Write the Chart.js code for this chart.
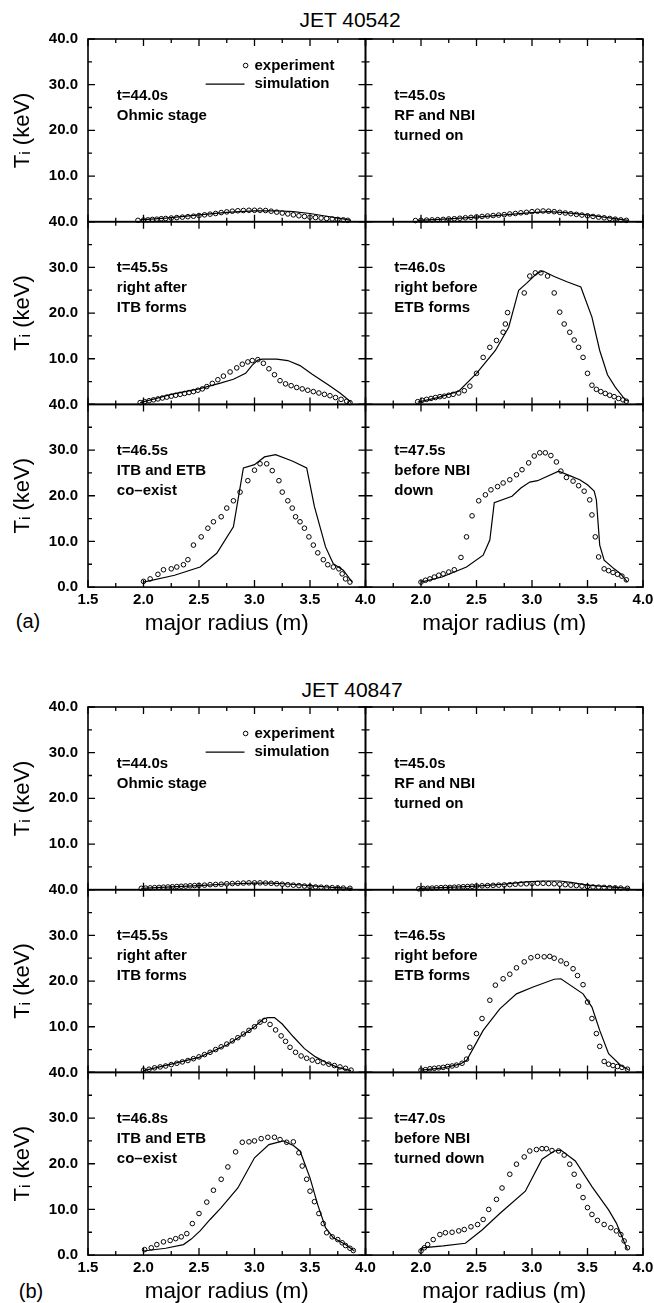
<!DOCTYPE html>
<html>
<head>
<meta charset="utf-8">
<script src="https://cdn.jsdelivr.net/npm/chart.js@4"></script>
<style>
  html, body { margin: 0; padding: 0; background: #fff; }
  #page { position: relative; width: 654px; height: 1303px; overflow: hidden; }
  #page canvas { position: absolute; left: 0; top: 0; }
  .lbl { position: absolute; font-family: 'Liberation Sans', Arial, sans-serif; color: #000;
         transform: translate(-50%, -50%); white-space: nowrap; }
</style>
</head>
<body>
<div id="page">
  <div class="lbl" style="left:350px;top:20px;font-size:21px">JET 40542</div>
  <div class="lbl" style="left:28px;top:621px;font-size:20px">(a)</div>
  <div class="lbl" style="left:352px;top:690px;font-size:21px">JET 40847</div>
  <div class="lbl" style="left:31px;top:1291px;font-size:20px">(b)</div>
</div>
<script>
// major radius (m), ion temperature (keV)
const xTicks = [1.5, 2.0, 2.5, 3.0, 3.5, 4.0];
const xMinor = [1.75, 2.25, 2.75, 3.25, 3.75];
const yTicks = [0, 10, 20, 30, 40];
const yMinor = [5, 15, 25, 35];

// JET 40542
const a1Exp = [[1.95,0.3],[2.0,0.35],[2.04,0.4],[2.08,0.5],[2.12,0.55],[2.16,0.65],[2.2,0.7],[2.25,0.8],[2.3,0.9],[2.35,1.0],[2.4,1.1],[2.45,1.2],[2.5,1.35],[2.55,1.5],[2.6,1.65],[2.65,1.8],[2.7,2.0],[2.75,2.15],[2.8,2.3],[2.85,2.4],[2.9,2.45],[2.95,2.5],[3.0,2.5],[3.05,2.5],[3.1,2.45],[3.15,2.3],[3.2,2.1],[3.25,1.9],[3.3,1.7],[3.35,1.5],[3.4,1.3],[3.45,1.15],[3.5,1.0],[3.55,0.9],[3.6,0.8],[3.65,0.7],[3.7,0.6],[3.75,0.5],[3.8,0.4],[3.84,0.3]];
const a1Sim = [[1.97,0.4],[2.2,0.8],[2.5,1.5],[2.75,2.05],[3.0,2.35],[3.2,2.4],[3.35,2.2],[3.5,1.8],[3.65,1.2],[3.8,0.6],[3.87,0.3]];
const a2Exp = [[1.95,0.25],[2.0,0.3],[2.05,0.35],[2.1,0.4],[2.15,0.45],[2.2,0.5],[2.25,0.6],[2.3,0.65],[2.35,0.75],[2.4,0.85],[2.45,0.95],[2.5,1.05],[2.55,1.15],[2.6,1.25],[2.65,1.35],[2.7,1.45],[2.75,1.55],[2.8,1.7],[2.85,1.8],[2.9,1.95],[2.95,2.05],[3.0,2.2],[3.05,2.3],[3.1,2.35],[3.15,2.3],[3.2,2.2],[3.25,2.05],[3.3,1.9],[3.35,1.75],[3.4,1.6],[3.45,1.45],[3.5,1.3],[3.55,1.15],[3.6,1.0],[3.65,0.85],[3.7,0.7],[3.75,0.55],[3.8,0.4],[3.85,0.3]];
const a2Sim = [[1.97,0.3],[2.25,0.6],[2.5,1.0],[2.75,1.5],[3.0,2.0],[3.15,2.2],[3.3,2.0],[3.5,1.5],[3.65,1.0],[3.8,0.5],[3.87,0.3]];
const a3Exp = [[1.97,0.4],[2.01,0.6],[2.05,0.8],[2.09,1.0],[2.13,1.2],[2.17,1.4],[2.21,1.6],[2.25,1.8],[2.29,2.0],[2.33,2.2],[2.37,2.4],[2.41,2.6],[2.45,2.8],[2.49,3.1],[2.53,3.4],[2.57,3.9],[2.62,4.6],[2.67,5.4],[2.72,6.2],[2.78,7.1],[2.84,8.0],[2.89,8.8],[2.94,9.3],[2.98,9.6],[3.03,9.8],[3.08,9.0],[3.13,7.8],[3.18,6.5],[3.23,5.2],[3.28,4.5],[3.33,4.1],[3.38,3.7],[3.43,3.4],[3.48,3.1],[3.53,2.8],[3.58,2.5],[3.63,2.2],[3.68,1.9],[3.73,1.5],[3.78,1.1],[3.83,0.7],[3.86,0.4]];
const a3Sim = [[1.97,0.4],[2.1,1.2],[2.25,2.2],[2.5,3.4],[2.7,4.7],[2.81,5.5],[2.92,6.8],[2.98,8.6],[3.03,9.7],[3.07,9.9],[3.2,9.9],[3.3,9.6],[3.41,8.5],[3.52,6.6],[3.67,4.2],[3.77,2.5],[3.82,1.5],[3.87,0.4]];
const a4Exp = [[1.97,0.6],[2.01,0.9],[2.05,1.1],[2.09,1.3],[2.13,1.5],[2.17,1.7],[2.21,1.8],[2.25,2.0],[2.29,2.2],[2.34,2.5],[2.39,3.0],[2.44,4.0],[2.5,6.8],[2.56,10.3],[2.62,12.5],[2.68,14.0],[2.74,15.8],[2.76,17.6],[2.78,20.1],[2.93,24.4],[2.98,28.1],[3.03,28.8],[3.08,28.8],[3.14,28.1],[3.2,24.4],[3.25,20.2],[3.29,17.6],[3.34,15.8],[3.38,14.1],[3.42,12.5],[3.46,10.3],[3.5,6.8],[3.54,4.2],[3.58,3.3],[3.62,2.8],[3.66,2.4],[3.7,2.0],[3.74,1.7],[3.78,1.3],[3.82,1.0],[3.85,0.7]];
const a4Sim = [[1.97,0.5],[2.15,1.5],[2.34,2.9],[2.5,6.8],[2.67,11.8],[2.79,16.9],[2.88,25.0],[2.95,26.5],[3.05,28.8],[3.1,29.2],[3.2,28.0],[3.32,26.8],[3.44,25.7],[3.54,19.1],[3.61,11.8],[3.68,6.5],[3.75,3.8],[3.84,1.0],[3.87,0.7]];
const a5Exp = [[2.0,1.25],[2.06,1.8],[2.13,2.8],[2.18,3.8],[2.25,4.0],[2.3,4.4],[2.36,4.9],[2.4,6.0],[2.45,9.2],[2.52,11.0],[2.58,12.9],[2.63,14.3],[2.7,15.4],[2.75,17.3],[2.81,18.9],[2.87,20.8],[2.94,23.3],[3.0,25.6],[3.05,27.0],[3.11,27.0],[3.16,25.5],[3.22,23.3],[3.25,20.8],[3.3,18.9],[3.34,17.3],[3.37,15.4],[3.41,14.3],[3.45,12.9],[3.49,11.0],[3.53,9.2],[3.57,7.5],[3.62,6.0],[3.66,4.9],[3.71,4.4],[3.76,4.0],[3.79,2.9],[3.82,1.8],[3.86,1.1]];
const a5Sim = [[2.0,1.1],[2.28,2.6],[2.51,4.4],[2.66,7.4],[2.81,13.2],[2.9,26.1],[3.0,26.8],[3.09,28.5],[3.19,29.0],[3.34,27.6],[3.47,26.1],[3.54,17.6],[3.64,8.8],[3.71,5.1],[3.8,3.7],[3.88,1.1]];
const a6Exp = [[2.0,1.1],[2.04,1.5],[2.08,1.8],[2.12,2.2],[2.16,2.6],[2.2,2.9],[2.25,3.3],[2.3,3.8],[2.36,6.5],[2.41,11.0],[2.46,15.6],[2.52,18.9],[2.58,20.2],[2.63,21.3],[2.69,22.0],[2.74,22.8],[2.8,23.5],[2.86,24.6],[2.91,25.7],[2.97,27.2],[3.02,28.7],[3.07,29.4],[3.12,29.4],[3.17,28.8],[3.22,27.4],[3.26,25.4],[3.31,24.0],[3.37,23.2],[3.42,22.2],[3.47,21.0],[3.52,19.1],[3.54,15.8],[3.57,11.0],[3.6,6.6],[3.65,4.0],[3.69,3.6],[3.73,3.2],[3.77,2.8],[3.81,2.4],[3.85,1.6]];
const a6Sim = [[2.0,1.1],[2.19,2.2],[2.41,4.4],[2.56,7.0],[2.62,10.3],[2.66,18.5],[2.82,19.9],[2.9,21.7],[2.98,23.0],[3.05,23.3],[3.24,25.4],[3.35,24.3],[3.43,23.5],[3.5,22.4],[3.56,21.0],[3.58,19.1],[3.61,9.2],[3.65,5.9],[3.74,4.0],[3.8,2.9],[3.86,1.1]];

// JET 40847
const b1Exp = [[1.98,0.3],[2.02,0.35],[2.06,0.4],[2.1,0.45],[2.14,0.5],[2.18,0.55],[2.22,0.6],[2.26,0.65],[2.3,0.7],[2.34,0.75],[2.38,0.8],[2.42,0.85],[2.46,0.9],[2.5,0.95],[2.55,1.0],[2.6,1.1],[2.65,1.15],[2.7,1.2],[2.75,1.3],[2.8,1.35],[2.85,1.4],[2.9,1.45],[2.95,1.5],[3.0,1.5],[3.05,1.5],[3.1,1.45],[3.15,1.4],[3.2,1.3],[3.25,1.2],[3.3,1.1],[3.35,1.0],[3.4,0.9],[3.45,0.8],[3.5,0.7],[3.55,0.6],[3.6,0.55],[3.65,0.5],[3.7,0.45],[3.75,0.4],[3.8,0.35],[3.86,0.3]];
const b1Sim = [[1.98,0.3],[2.25,0.6],[2.5,0.9],[2.75,1.25],[3.0,1.45],[3.15,1.45],[3.3,1.25],[3.5,0.9],[3.7,0.5],[3.88,0.3]];
const b2Exp = [[1.98,0.2],[2.02,0.25],[2.06,0.3],[2.1,0.35],[2.14,0.4],[2.18,0.45],[2.22,0.5],[2.26,0.5],[2.3,0.55],[2.34,0.6],[2.38,0.65],[2.42,0.7],[2.46,0.75],[2.5,0.8],[2.55,0.85],[2.6,0.9],[2.65,0.95],[2.7,1.0],[2.75,1.05],[2.8,1.1],[2.85,1.2],[2.9,1.25],[2.95,1.3],[3.0,1.35],[3.05,1.4],[3.1,1.4],[3.15,1.35],[3.2,1.3],[3.25,1.2],[3.3,1.1],[3.35,1.0],[3.4,0.9],[3.45,0.8],[3.5,0.7],[3.55,0.6],[3.6,0.55],[3.65,0.5],[3.7,0.45],[3.75,0.4],[3.8,0.35],[3.86,0.3]];
const b2Sim = [[1.98,0.3],[2.25,0.5],[2.5,0.8],[2.75,1.2],[2.95,1.7],[3.1,1.9],[3.25,1.9],[3.35,1.6],[3.5,1.0],[3.7,0.6],[3.88,0.3]];
const b3Exp = [[2.0,0.5],[2.05,0.7],[2.1,1.0],[2.15,1.2],[2.2,1.4],[2.25,1.7],[2.3,2.0],[2.35,2.3],[2.4,2.6],[2.45,3.0],[2.5,3.4],[2.55,3.9],[2.6,4.4],[2.65,5.0],[2.7,5.6],[2.75,6.2],[2.8,6.9],[2.85,7.6],[2.9,8.4],[2.95,9.2],[3.0,10.0],[3.05,11.0],[3.09,11.4],[3.14,10.5],[3.19,9.3],[3.24,8.0],[3.28,6.8],[3.32,5.5],[3.37,4.4],[3.42,3.6],[3.47,3.1],[3.52,2.7],[3.57,2.4],[3.62,2.1],[3.67,1.8],[3.72,1.5],[3.77,1.2],[3.82,0.9],[3.87,0.5]];
const b3Sim = [[2.0,0.4],[2.25,1.8],[2.5,3.3],[2.75,6.0],[2.9,8.3],[3.0,10.0],[3.08,11.7],[3.12,12.0],[3.18,12.0],[3.25,10.6],[3.35,7.8],[3.45,5.2],[3.55,3.4],[3.65,2.1],[3.75,1.1],[3.87,0.4]];
const b4Exp = [[2.0,0.5],[2.04,0.6],[2.08,0.8],[2.12,0.9],[2.16,1.0],[2.2,1.1],[2.24,1.3],[2.28,1.4],[2.32,1.6],[2.37,2.0],[2.41,2.9],[2.44,5.5],[2.5,8.5],[2.55,11.8],[2.62,15.8],[2.67,19.1],[2.74,20.5],[2.8,21.5],[2.86,22.9],[2.93,24.2],[2.99,25.1],[3.05,25.4],[3.11,25.3],[3.16,25.4],[3.2,25.0],[3.26,24.4],[3.31,23.8],[3.37,22.7],[3.41,21.2],[3.46,19.2],[3.5,15.4],[3.54,11.8],[3.58,8.5],[3.61,5.7],[3.65,2.4],[3.69,1.8],[3.73,1.5],[3.77,1.3],[3.81,1.1],[3.86,0.7]];
const b4Sim = [[2.0,0.5],[2.2,1.0],[2.35,1.8],[2.41,2.6],[2.56,9.2],[2.71,13.9],[2.86,17.2],[3.01,18.7],[3.2,20.4],[3.26,20.5],[3.46,17.2],[3.54,14.3],[3.61,9.2],[3.69,4.1],[3.8,1.5],[3.87,0.6]];
const b5Exp = [[2.01,1.2],[2.07,1.6],[2.12,2.3],[2.18,2.9],[2.24,3.2],[2.29,3.6],[2.34,4.0],[2.39,4.7],[2.44,6.9],[2.5,9.1],[2.57,11.6],[2.63,14.2],[2.7,16.6],[2.76,19.3],[2.83,22.6],[2.89,24.7],[2.95,24.8],[3.0,25.0],[3.06,25.5],[3.12,25.8],[3.18,25.8],[3.23,25.3],[3.29,24.7],[3.35,24.8],[3.4,22.4],[3.43,19.5],[3.47,16.6],[3.5,14.0],[3.54,11.7],[3.58,9.1],[3.62,6.9],[3.65,4.9],[3.7,4.0],[3.75,3.4],[3.79,2.7],[3.82,2.1],[3.86,1.5],[3.89,1.0]];
const b5Sim = [[2.0,0.9],[2.2,1.5],[2.36,2.3],[2.43,3.5],[2.51,5.3],[2.6,7.8],[2.7,10.4],[2.85,14.7],[3.0,21.3],[3.13,24.2],[3.26,25.0],[3.35,24.0],[3.41,22.8],[3.5,16.9],[3.57,11.0],[3.64,6.0],[3.71,3.8],[3.82,2.3],[3.9,0.9]];
const b6Exp = [[2.0,0.9],[2.03,1.6],[2.06,2.3],[2.11,3.4],[2.17,4.5],[2.22,4.9],[2.28,5.0],[2.34,5.3],[2.39,5.6],[2.45,6.2],[2.51,6.7],[2.56,7.8],[2.61,10.0],[2.68,12.2],[2.73,14.7],[2.8,17.7],[2.86,19.9],[2.93,21.5],[2.98,22.8],[3.04,23.1],[3.09,23.3],[3.13,23.3],[3.18,22.9],[3.24,22.8],[3.29,21.9],[3.34,19.9],[3.38,17.7],[3.42,15.1],[3.46,12.6],[3.5,10.4],[3.54,8.9],[3.59,7.6],[3.65,6.7],[3.71,6.0],[3.76,5.3],[3.8,4.5],[3.83,3.1],[3.86,1.6]];
const b6Sim = [[2.0,0.9],[2.01,1.6],[2.2,2.0],[2.4,2.6],[2.55,5.5],[2.71,9.1],[2.94,14.0],[3.09,21.0],[3.2,22.8],[3.26,23.0],[3.39,20.6],[3.54,15.0],[3.69,9.9],[3.76,7.0],[3.84,2.3],[3.86,1.2]];

const notesA = [['t=44.0s', 'Ohmic stage'], ['t=45.0s', 'RF and NBI', 'turned on'],
                ['t=45.5s', 'right after', 'ITB forms'], ['t=46.0s', 'right before', 'ETB forms'],
                ['t=46.5s', 'ITB and ETB', 'co\u2013exist'], ['t=47.5s', 'before NBI', 'down']];
const notesB = [['t=44.0s', 'Ohmic stage'], ['t=45.0s', 'RF and NBI', 'turned on'],
                ['t=45.5s', 'right after', 'ITB forms'], ['t=46.5s', 'right before', 'ETB forms'],
                ['t=46.8s', 'ITB and ETB', 'co\u2013exist'], ['t=47.0s', 'before NBI', 'turned down']];

const W = 654, H = 1303;
const colEdges = [88, 365.5, 643];
const groupTops = [39, 707];
const rowH = 182.7;
const xAxisH = 54;
const FONT = "'Liberation Sans', Arial, sans-serif";

const groups = [
  {series: [[a1Exp, a1Sim], [a2Exp, a2Sim], [a3Exp, a3Sim], [a4Exp, a4Sim], [a5Exp, a5Sim], [a6Exp, a6Sim]], notes: notesA},
  {series: [[b1Exp, b1Sim], [b2Exp, b2Sim], [b3Exp, b3Sim], [b4Exp, b4Sim], [b5Exp, b5Sim], [b6Exp, b6Sim]], notes: notesB}
];

const toXY = arr => arr.map(p => ({x: p[0], y: p[1]}));

// frame and inward ticks on all four sides
const frameTicks = {
  id: 'frameTicks',
  beforeDatasetsDraw(chart) {
    const {ctx, chartArea: a, scales: {x, y}} = chart;
    ctx.save();
    ctx.strokeStyle = '#000';
    ctx.lineWidth = 1.6;
    ctx.strokeRect(a.left, a.top, a.right - a.left, a.bottom - a.top);
    ctx.lineWidth = 1.3;
    ctx.beginPath();
    const xt = (v, len) => {
      const px = x.getPixelForValue(v);
      ctx.moveTo(px, a.top); ctx.lineTo(px, a.top + len);
      ctx.moveTo(px, a.bottom); ctx.lineTo(px, a.bottom - len);
    };
    const yt = (v, len) => {
      const py = y.getPixelForValue(v);
      ctx.moveTo(a.left, py); ctx.lineTo(a.left + len, py);
      ctx.moveTo(a.right, py); ctx.lineTo(a.right - len, py);
    };
    xTicks.forEach(v => xt(v, 7));
    xMinor.forEach(v => xt(v, 4));
    yTicks.forEach(v => yt(v, 7));
    yMinor.forEach(v => yt(v, 4));
    ctx.stroke();
    ctx.restore();
  }
};

function makeNotes(lines, row, withLegend) {
  return {
    id: 'notes',
    afterDatasetsDraw(chart) {
      const {ctx, scales: {x, y}} = chart;
      ctx.save();
      ctx.fillStyle = '#000';
      ctx.strokeStyle = '#000';
      ctx.font = 'bold 15px ' + FONT;
      ctx.textBaseline = 'middle';
      ctx.textAlign = 'left';
      const first = row === 0 ? 27.5 : 29.9;
      lines.forEach((t, i) => {
        ctx.fillText(t, x.getPixelForValue(1.76), y.getPixelForValue(first - i * 4.4));
      });
      if (withLegend) {
        const ye = y.getPixelForValue(34.2), ys = y.getPixelForValue(30.1);
        ctx.lineWidth = 1;
        ctx.beginPath();
        ctx.arc(x.getPixelForValue(2.92), ye, 2.3, 0, Math.PI * 2);
        ctx.stroke();
        ctx.beginPath();
        ctx.moveTo(x.getPixelForValue(2.56), ys);
        ctx.lineTo(x.getPixelForValue(2.91), ys);
        ctx.lineWidth = 1.3;
        ctx.stroke();
        ctx.fillText('experiment', x.getPixelForValue(3.0), ye);
        ctx.fillText('simulation', x.getPixelForValue(3.0), ys);
      }
      ctx.restore();
    }
  };
}

const page = document.getElementById('page');

groups.forEach((grp, g) => {
  grp.series.forEach((pair, k) => {
    const row = Math.floor(k / 2), col = k % 2;
    const top = groupTops[g] + row * rowH;
    const bottom = top + rowH;
    const left = colEdges[col], right = colEdges[col + 1];
    const showX = row === 2, showY = col === 0;

    const cv = document.createElement('canvas');
    cv.width = W; cv.height = H;
    page.appendChild(cv);

    new Chart(cv, {
      type: 'scatter',
      data: {
        datasets: [
          {
            label: 'experiment',
            data: toXY(pair[0]),
            showLine: false,
            pointStyle: 'circle',
            pointRadius: 2.3,
            pointBorderWidth: 1,
            pointBorderColor: '#000',
            pointBackgroundColor: 'rgba(0,0,0,0)',
            clip: false
          },
          {
            label: 'simulation',
            data: toXY(pair[1]),
            showLine: true,
            borderColor: '#000',
            borderWidth: 1.2,
            pointRadius: 0,
            tension: 0,
            clip: false
          }
        ]
      },
      options: {
        responsive: false,
        animation: false,
        events: [],
        layout: {
          autoPadding: false,
          padding: {
            left: showY ? 0 : left,
            right: W - right,
            top: top,
            bottom: showX ? H - bottom - xAxisH : H - bottom
          }
        },
        plugins: { legend: { display: false }, tooltip: { enabled: false } },
        scales: {
          x: {
            type: 'linear', min: 1.5, max: 4.0, display: showX,
            grid: { display: false, drawTicks: false }, border: { display: false },
            afterBuildTicks: s => { s.ticks = xTicks.map(v => ({value: v})); },
            ticks: {
              color: '#000', padding: 4, maxRotation: 0, autoSkip: false,
              font: { family: FONT, size: 15, weight: 'bold' },
              callback: v => (col === 1 && v < 1.75) ? '' : Number(v).toFixed(1)
            },
            title: {
              display: true, text: 'major radius (m)', color: '#000',
              font: { family: FONT, size: 22.5 }, padding: { top: 0, bottom: 4 }
            },
            afterFit: s => { s.height = showX ? xAxisH : 0; s.paddingLeft = 0; s.paddingRight = 0; }
          },
          y: {
            type: 'linear', min: 0, max: 40, display: showY,
            grid: { display: false, drawTicks: false }, border: { display: false },
            afterBuildTicks: s => { s.ticks = yTicks.map(v => ({value: v})); },
            ticks: {
              color: '#000', padding: 10,
              font: { family: FONT, size: 15, weight: 'bold' },
              callback: v => (v === 0 && row < 2) ? '' : Number(v).toFixed(1)
            },
            title: {
              display: true, text: 'T\u1D62 (keV)', color: '#000',
              font: { family: FONT, size: 22 }, padding: { top: 10, bottom: 0 }
            },
            afterFit: s => { s.width = showY ? colEdges[0] : 0; s.paddingTop = 0; s.paddingBottom = 0; }
          }
        }
      },
      plugins: [frameTicks, makeNotes(grp.notes[k], row, row === 0 && col === 0)]
    });
  });
});
</script>
</body>
</html>
